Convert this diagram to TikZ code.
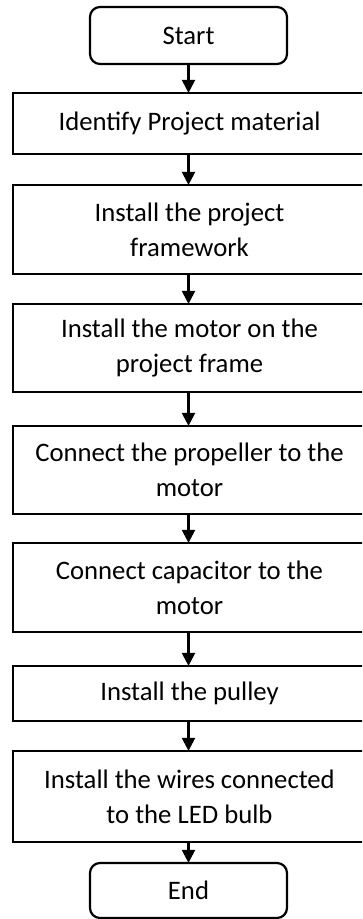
\documentclass[tikz,border=0pt]{standalone}
\usepackage{fontspec}
\setmainfont{Carlito}
\usetikzlibrary{arrows.meta}
\begin{document}
\begin{tikzpicture}[x=1pt,y=-1pt,
  every node/.style={font=\fontsize{26.7}{35}\selectfont, align=center, inner sep=0pt},
  stepbox/.style={draw, line width=2.2pt, minimum width=353pt},
  termbox/.style={draw, line width=2.2pt, rounded corners=10pt, minimum width=197pt, minimum height=57pt},
  flow/.style={line width=2.2pt, -{Triangle[length=13pt,width=13pt]}, shorten >=-1pt}]
\useasboundingbox (0,0) rectangle (362,919);
\clip (0,0) rectangle (362,919);
\node[termbox] (s) at (188.5,35.5) {Start};
\node[stepbox, minimum height=61pt] (b1) at (189.5,123.5) {Identify Project material};
\node[stepbox, minimum height=89pt] (b2) at (189.5,229.5) {Install the project\\framework};
\node[stepbox, minimum height=88pt] (b3) at (189.5,348) {Install the motor on the\\project frame};
\node[stepbox, minimum height=88pt] (b4) at (189.5,470) {Connect the propeller to the\\motor};
\node[stepbox, minimum height=89pt] (b5) at (189.5,587.5) {Connect capacitor to the\\motor};
\node[stepbox, minimum height=55pt] (b6) at (189.5,693.5) {Install the pulley};
\node[stepbox, minimum height=91pt] (b7) at (189.5,796.5) {Install the wires connected\\to the LED bulb};
\node[termbox, minimum height=55pt] (e) at (188.5,890.5) {End};
\draw[flow] (s.south) -- (s.south |- b1.north);
\draw[flow] (s.south |- b1.south) -- (s.south |- b2.north);
\draw[flow] (s.south |- b2.south) -- (s.south |- b3.north);
\draw[flow] (s.south |- b3.south) -- (s.south |- b4.north);
\draw[flow] (s.south |- b4.south) -- (s.south |- b5.north);
\draw[flow] (s.south |- b5.south) -- (s.south |- b6.north);
\draw[flow] (s.south |- b6.south) -- (s.south |- b7.north);
\draw[flow] (s.south |- b7.south) -- (e.north);
\end{tikzpicture}
\end{document}
